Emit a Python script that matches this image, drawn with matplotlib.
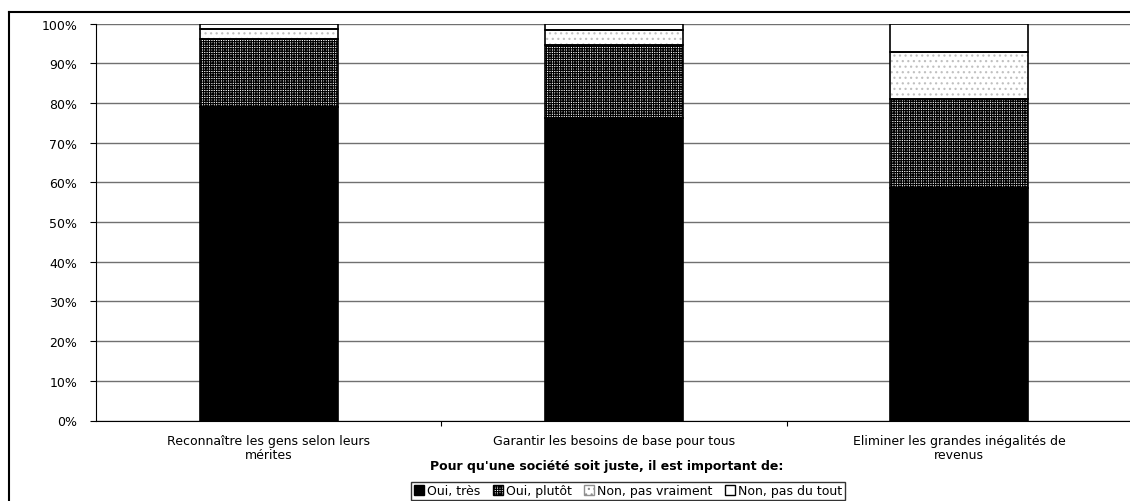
import matplotlib
matplotlib.use("Agg")
import matplotlib.pyplot as plt
from matplotlib.patches import Patch
from matplotlib.lines import Line2D
import numpy as np

categories = ["Reconnaître les gens selon leurs\nmérites",
              "Garantir les besoins de base pour tous",
              "Eliminer les grandes inégalités de\nrevenus"]
series_names = ["Oui, très", "Oui, plutôt", "Non, pas vraiment", "Non, pas du tout"]
oui_tres = [79.0, 76.2, 58.6]
oui_plutot = [17.1, 18.4, 22.4]
non_pas_vraiment = [2.5, 3.8, 11.8]
non_pas_du_tout = [1.4, 1.6, 7.2]
yticks = [0, 10, 20, 30, 40, 50, 60, 70, 80, 90, 100]
ytick_labels = ["0%", "10%", "20%", "30%", "40%", "50%", "60%", "70%", "80%", "90%", "100%"]
xlabel = "Pour qu'une société soit juste, il est important de:"

plt.rcParams['font.family'] = ['DejaVu Sans']
plt.rcParams['hatch.linewidth'] = 0.85

W, H = 1130, 502
fig = plt.figure(figsize=(W / 100, H / 100), dpi=100)
ax = fig.add_axes([96 / W, 1 - 421.5 / H, (1131.75 - 96) / W, (421.5 - 24.5) / H])

FS = 9
x = np.arange(len(categories))
width = 0.4
series = [oui_tres, oui_plutot, non_pas_vraiment, non_pas_du_tout]
styles = [
    dict(fc="black", hatch=None, hc="black"),
    dict(fc="white", hatch="+" * 7, hc="black"),
    dict(fc="white", hatch="...", hc="#c0c0c0"),
    dict(fc="white", hatch=None, hc="black"),
]
bottom = np.zeros(len(categories))
for vals, st in zip(series, styles):
    vals = np.array(vals)
    ax.bar(x, vals, width, bottom=bottom, color=st["fc"], hatch=st["hatch"],
           edgecolor=st["hc"], linewidth=0, zorder=3)
    ax.bar(x, vals, width, bottom=bottom, fill=False, edgecolor="black",
           linewidth=1.2, zorder=4)
    bottom += vals

ax.set_xlim(-0.5, 2.5)
ax.set_ylim(0, 100)
ax.set_yticks(yticks)
ax.set_yticklabels(ytick_labels, fontsize=FS)
ax.yaxis.grid(True, color="#707070", linewidth=1.0, zorder=0)
ax.set_axisbelow(True)
ax.spines["top"].set_visible(False)
ax.spines["right"].set_visible(False)
ax.spines["left"].set_color("black")
ax.spines["bottom"].set_color("black")
ax.tick_params(axis="y", direction="out", length=4.5, width=0.8, pad=9, colors="black")
ax.set_xticks(x)
ax.set_xticklabels(categories, fontsize=FS, linespacing=1.1)
ax.tick_params(axis="x", which="major", length=0, pad=10)
ax.set_xticks([0.5, 1.5], minor=True)
ax.tick_params(axis="x", which="minor", direction="out", length=3.5, width=0.8)

fig.text(607 / W, 1 - 467 / H, xlabel, ha="center", va="center",
         fontsize=FS, fontweight="bold")

handles = [
    Patch(facecolor="black", edgecolor="black", label=series_names[0]),
    Patch(facecolor="white", edgecolor="black", hatch="+" * 7, label=series_names[1]),
    Patch(facecolor="white", edgecolor="#909090", hatch="...", label=series_names[2]),
    Patch(facecolor="white", edgecolor="black", label=series_names[3]),
]
leg = fig.legend(handles=handles, loc="upper center",
                 bbox_to_anchor=(628 / W, 1 - 483 / H), ncol=4, fontsize=FS,
                 frameon=True, fancybox=False, edgecolor="black",
                 handlelength=0.8, handleheight=0.8, handletextpad=0.25,
                 columnspacing=1.0, borderpad=0.2, borderaxespad=0)
leg.get_frame().set_linewidth(1.0)

# outer chart frame
fig.add_artist(Line2D([8.5 / W, 8.5 / W], [1 - 13 / H, 0], transform=fig.transFigure,
                      color="black", linewidth=1.5))
fig.add_artist(Line2D([8.5 / W, 1], [1 - 13 / H, 1 - 13 / H], transform=fig.transFigure,
                      color="black", linewidth=1.5))

fig.savefig("out.png", dpi=100)
